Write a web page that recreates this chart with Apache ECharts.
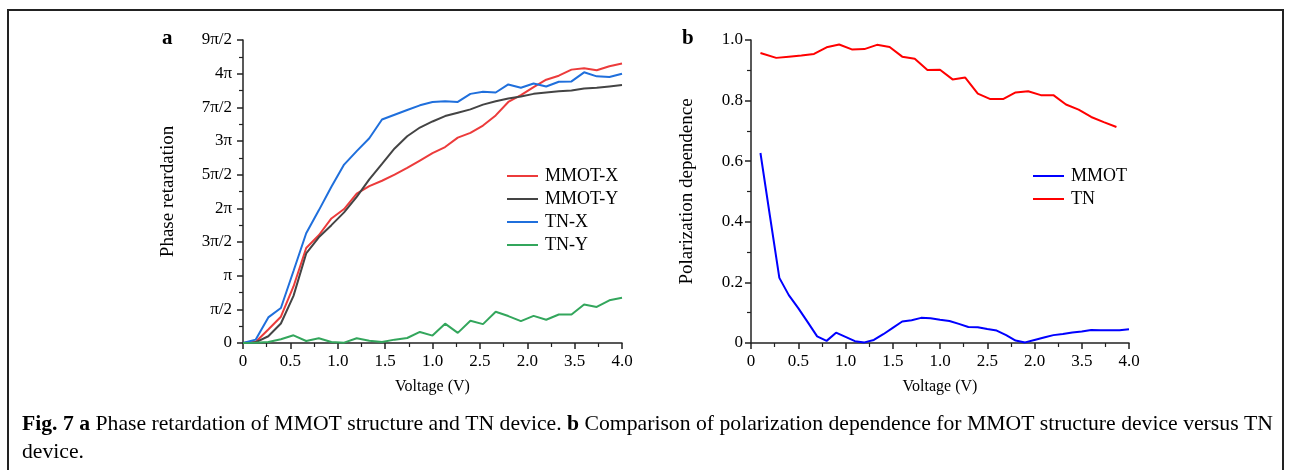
<!DOCTYPE html>
<html>
<head>
<meta charset="utf-8">
<script src="https://cdn.jsdelivr.net/npm/echarts@6/dist/echarts.min.js"></script>
<style>
  html, body { margin: 0; padding: 0; background: #fff; }
  #chart { width: 1291px; height: 470px; }
</style>
</head>
<body>
<div id="chart"></div>
<script>
  // panel a: phase retardation, in units of pi
  const voltA = [0, 0.133, 0.267, 0.4, 0.533, 0.667, 0.8, 0.933, 1.067, 1.2, 1.333, 1.467, 1.6, 1.733, 1.867, 2.0,
    2.133, 2.267, 2.4, 2.533, 2.667, 2.8, 2.933, 3.067, 3.2, 3.333, 3.467, 3.6, 3.733, 3.867, 4.0]
  const mmotX = [0, 0.015, 0.2, 0.39, 0.84, 1.41, 1.6, 1.85, 1.99, 2.22, 2.33, 2.41, 2.5, 2.6, 2.71, 2.82,
    2.91, 3.05, 3.12, 3.23, 3.38, 3.58, 3.68, 3.8, 3.91, 3.97, 4.06, 4.08, 4.05, 4.11, 4.15]
  const mmotY = [0, 0.01, 0.1, 0.29, 0.7, 1.33, 1.57, 1.75, 1.94, 2.17, 2.43, 2.66, 2.89, 3.07, 3.2, 3.29,
    3.37, 3.42, 3.47, 3.54, 3.59, 3.63, 3.66, 3.7, 3.72, 3.74, 3.75, 3.78, 3.79, 3.81, 3.83]
  const tnX = [0, 0.05, 0.38, 0.52, 1.07, 1.63, 1.97, 2.32, 2.65, 2.85, 3.04, 3.32, 3.39, 3.46, 3.53, 3.58,
    3.59, 3.58, 3.7, 3.73, 3.72, 3.84, 3.79, 3.855, 3.81, 3.88, 3.885, 4.02, 3.96, 3.95, 4.0]
  const tnY = [0, 0.005, 0.015, 0.055, 0.114, 0.03, 0.07, 0.015, 0.005, 0.07, 0.035, 0.015, 0.05, 0.074, 0.164, 0.11,
    0.287, 0.15, 0.33, 0.28, 0.465, 0.4, 0.325, 0.403, 0.345, 0.423, 0.423, 0.572, 0.535, 0.634, 0.672]

  // panel b: polarization dependence
  const voltMmot = [0.1, 0.2, 0.3, 0.4, 0.5, 0.6, 0.7, 0.8, 0.9, 1.0, 1.1, 1.2, 1.3, 1.4, 1.5, 1.6, 1.7, 1.8, 1.9, 2.0,
    2.1, 2.2, 2.3, 2.4, 2.5, 2.6, 2.7, 2.8, 2.9, 3.0, 3.1, 3.2, 3.3, 3.4, 3.5, 3.6, 3.7, 3.8, 3.9, 4.0]
  const mmotPd = [0.627, 0.42, 0.215, 0.158, 0.115, 0.069, 0.022, 0.007, 0.034, 0.02, 0.006, 0.002, 0.01, 0.029, 0.05,
    0.071, 0.075, 0.083, 0.082, 0.077, 0.0725, 0.063, 0.053, 0.052, 0.046, 0.041, 0.026, 0.008, 0.002, 0.01,
    0.018, 0.026, 0.03, 0.035, 0.038, 0.043, 0.042, 0.042, 0.042, 0.045]
  const voltTn = [0.1, 0.267, 0.4, 0.533, 0.667, 0.8, 0.933, 1.067, 1.2, 1.333, 1.467, 1.6, 1.733, 1.867, 2.0,
    2.133, 2.267, 2.4, 2.533, 2.667, 2.8, 2.933, 3.067, 3.2, 3.333, 3.467, 3.6, 3.733, 3.867]
  const tnPd = [0.957, 0.941, 0.945, 0.949, 0.954, 0.976, 0.985, 0.969, 0.970, 0.984, 0.977, 0.945, 0.938, 0.901, 0.902,
    0.870, 0.876, 0.823, 0.805, 0.805, 0.827, 0.831, 0.818, 0.818, 0.787, 0.770, 0.746, 0.729, 0.713]

  // tick labels as printed in the figure
  const xTickLabels = ['0', '0.5', '1.0', '1.5', '1.0', '2.5', '2.0', '3.5', '4.0']
  const phaseTickLabels = ['0', 'π/2', 'π', '3π/2', '2π', '5π/2', '3π', '7π/2', '4π', '9π/2']
  const pdTickLabels = ['0', '0.2', '0.4', '0.6', '0.8', '1.0']

  const font = '"Liberation Serif", "DejaVu Serif", serif'
  const pair = (xs, ys) => xs.map((x, i) => [x, ys[i]])

  const axisCommon = {
    axisLine: { lineStyle: { color: '#222', width: 1.5 } },
    axisTick: { inside: false, length: 6, lineStyle: { color: '#222', width: 1.5 } },
    minorTick: { show: true, splitNumber: 2, length: 4, lineStyle: { color: '#222', width: 1.2 } },
    splitLine: { show: false },
    nameLocation: 'middle'
  }

  function xAxisFor(grid) {
    return Object.assign({}, axisCommon, {
      type: 'value',
      gridIndex: grid,
      min: 0,
      max: 4,
      interval: 0.5,
      name: 'Voltage (V)',
      nameGap: 36,
      nameTextStyle: { fontFamily: font, fontSize: 16, color: '#000' },
      axisLabel: {
        margin: 10,
        fontFamily: font,
        fontSize: 17,
        color: '#000',
        formatter: v => xTickLabels[Math.round(v / 0.5)]
      }
    })
  }

  const lineSeries = (name, data, color, xi, yi) => ({
    name: name,
    type: 'line',
    xAxisIndex: xi,
    yAxisIndex: yi,
    data: data,
    symbol: 'none',
    smooth: false,
    lineStyle: { color: color, width: 2 },
    itemStyle: { color: color }
  })

  const legendCommon = {
    orient: 'vertical',
    icon: 'rect',
    itemWidth: 31,
    itemHeight: 2,
    itemGap: 5,
    padding: 0,
    textStyle: { fontFamily: font, fontSize: 18, color: '#000', padding: [0, 0, 0, 2] }
  }

  const chart = echarts.init(document.getElementById('chart'))
  chart.setOption({
    backgroundColor: '#fff',
    animation: false,
    grid: [
      { left: 243, top: 40, width: 379, height: 303 },
      { left: 751, top: 40, width: 378, height: 303 }
    ],
    xAxis: [xAxisFor(0), xAxisFor(1)],
    yAxis: [
      Object.assign({}, axisCommon, {
        type: 'value',
        gridIndex: 0,
        min: 0,
        max: 4.5,
        interval: 0.5,
        name: 'Phase retardation',
        nameGap: 65,
        nameTextStyle: { fontFamily: font, fontSize: 19, color: '#000' },
        axisLabel: {
          margin: 11,
          fontFamily: font,
          fontSize: 17,
          color: '#000',
          formatter: v => phaseTickLabels[Math.round(v / 0.5)]
        }
      }),
      Object.assign({}, axisCommon, {
        type: 'value',
        gridIndex: 1,
        min: 0,
        max: 1,
        interval: 0.2,
        name: 'Polarization dependence',
        nameGap: 54,
        nameTextStyle: { fontFamily: font, fontSize: 19, color: '#000' },
        axisLabel: {
          margin: 8,
          fontFamily: font,
          fontSize: 17,
          color: '#000',
          formatter: v => pdTickLabels[Math.round(v / 0.2)]
        }
      })
    ],
    legend: [
      Object.assign({}, legendCommon, {
        left: 507,
        top: 167,
        data: ['MMOT-X', 'MMOT-Y', 'TN-X', 'TN-Y']
      }),
      Object.assign({}, legendCommon, {
        left: 1033,
        top: 167,
        data: ['MMOT', 'TN']
      })
    ],
    series: [
      lineSeries('MMOT-X', pair(voltA, mmotX), '#ec3b3b', 0, 0),
      lineSeries('MMOT-Y', pair(voltA, mmotY), '#444444', 0, 0),
      lineSeries('TN-X', pair(voltA, tnX), '#1f6fdc', 0, 0),
      lineSeries('TN-Y', pair(voltA, tnY), '#33a65c', 0, 0),
      lineSeries('MMOT', pair(voltMmot, mmotPd), '#0000ff', 1, 1),
      lineSeries('TN', pair(voltTn, tnPd), '#ff0000', 1, 1)
    ],
    graphic: [
      {
        type: 'rect',
        shape: { x: 8, y: 10, width: 1275, height: 480 },
        style: { fill: 'none', stroke: '#222', lineWidth: 2 },
        silent: true
      },
      {
        type: 'text',
        left: 162,
        top: 28,
        style: { text: 'a', font: 'bold 21px ' + font, fill: '#000' }
      },
      {
        type: 'text',
        left: 682,
        top: 28,
        style: { text: 'b', font: 'bold 21px ' + font, fill: '#000' }
      },
      {
        type: 'text',
        left: 22,
        top: 410,
        style: {
          text: '{b|Fig. 7 a} Phase retardation of MMOT structure and TN device. {b|b} Comparison of polarization dependence for MMOT structure device versus TN\ndevice.',
          fill: '#000',
          font: '21.7px ' + font,
          lineHeight: 28,
          rich: {
            b: { fontWeight: 'bold', fontFamily: font, fontSize: 21.7, fill: '#000' }
          }
        }
      }
    ]
  })
</script>
</body>
</html>
